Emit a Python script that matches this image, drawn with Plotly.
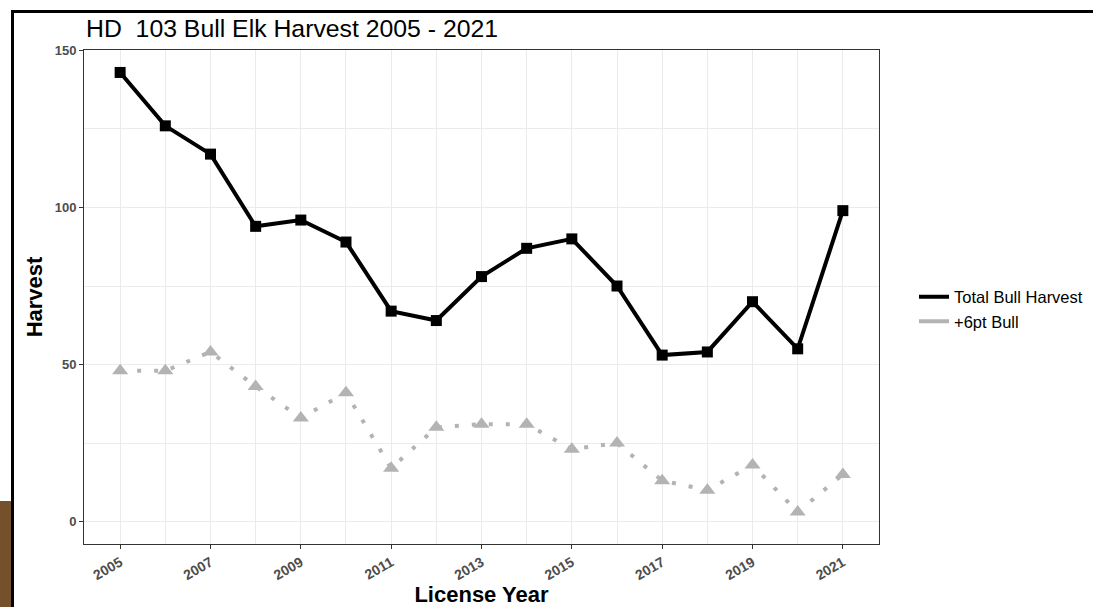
import plotly.graph_objects as go

years = list(range(2005, 2022))
total_bull = [143, 126, 117, 94, 96, 89, 67, 64, 78, 87, 90, 75, 53, 54, 70, 55, 99]
six_pt_bull = [48, 48, 54, 43, 33, 41, 17, 30, 31, 31, 23, 25, 13, 10, 18, 3, 15]
x_ticks = list(range(2005, 2022, 2))
y_ticks = [0, 50, 100, 150]

BLACK = "#000000"
GREY = "#B3B3B3"
W, H = 1093, 607
L, R, T, B = 84, 1093 - 879, 50, 607 - 544
FONT = "Liberation Sans, Arial, sans-serif"

fig = go.Figure()
fig.add_trace(go.Scatter(x=years, y=six_pt_bull, mode="lines",
                         line=dict(color=GREY, width=4, dash="4px,13px"),
                         showlegend=False, hoverinfo="skip"))
fig.add_trace(go.Scatter(x=years, y=six_pt_bull, mode="markers",
                         marker=dict(symbol="triangle-up", size=14, color=GREY),
                         showlegend=False))
fig.add_trace(go.Scatter(x=years, y=total_bull, mode="lines",
                         line=dict(color=BLACK, width=4),
                         showlegend=False, hoverinfo="skip"))
fig.add_trace(go.Scatter(x=years, y=total_bull, mode="markers",
                         marker=dict(symbol="square", size=11, color=BLACK),
                         showlegend=False))
# legend keys
fig.add_trace(go.Scatter(x=[None], y=[None], mode="lines", name="Total Bull Harvest",
                         line=dict(color=BLACK, width=4)))
fig.add_trace(go.Scatter(x=[None], y=[None], mode="lines", name="+6pt Bull",
                         line=dict(color=GREY, width=4)))

def px_x(p):
    return (p - L) / (W - L - R)

def px_y(p):
    return (H - B - p) / (H - T - B)

shapes = [
    dict(type="line", xref="paper", yref="paper", x0=px_x(11), x1=px_x(1100),
         y0=px_y(11.5), y1=px_y(11.5), line=dict(color="#000000", width=3)),
    dict(type="line", xref="paper", yref="paper", x0=px_x(12.5), x1=px_x(12.5),
         y0=px_y(10), y1=px_y(610), line=dict(color="#000000", width=3)),
    dict(type="rect", xref="paper", yref="paper", x0=px_x(-2), x1=px_x(11),
         y0=px_y(501), y1=px_y(610), line=dict(width=0), fillcolor="#74502B"),
]

fig.update_layout(
    width=W, height=H,
    margin=dict(l=L, r=R, t=T, b=B, pad=0, autoexpand=False),
    paper_bgcolor="white", plot_bgcolor="white",
    font=dict(family=FONT, color="#000000"),
    title=dict(text="HD  103 Bull Elk Harvest 2005 - 2021", x=86 / W, xanchor="left",
               y=1 - 28 / H, yanchor="middle",
               font=dict(size=24.8, color="#000000")),
    shapes=shapes,
    legend=dict(xref="container", x=914 / W, xanchor="left", y=px_y(309), yanchor="middle",
                font=dict(size=16.5, color="#000000"), bgcolor="rgba(0,0,0,0)",
                tracegroupgap=0),
    showlegend=True,
)

fig.update_xaxes(
    automargin=False,
    range=[2004.2, 2021.8], tickvals=x_ticks, ticktext=[str(v) for v in x_ticks],
    tickangle=-30, tickfont=dict(size=14, color="#4D4D4D", family=FONT, weight="bold"),
    ticks="outside", ticklen=4, tickcolor="#333333", tickwidth=1,
    showgrid=True, gridcolor="#EBEBEB", gridwidth=1.2,
    minor=dict(dtick=1, tick0=2005, showgrid=True, gridcolor="#EBEBEB", gridwidth=0.8, ticks=""),
    showline=True, mirror=True, linecolor="#333333", linewidth=1, zeroline=False,
    title=dict(text="<b>License Year</b>", font=dict(size=22, color="#000000"), standoff=8),
)
fig.update_yaxes(
    automargin=False,
    range=[-7.15, 150.15], tickvals=y_ticks, ticktext=[str(v) for v in y_ticks],
    tickfont=dict(size=13, color="#4D4D4D", family=FONT, weight="bold"),
    ticks="outside", ticklen=4, tickcolor="#333333", tickwidth=1,
    showgrid=True, gridcolor="#EBEBEB", gridwidth=1.2,
    minor=dict(dtick=25, tick0=0, showgrid=True, gridcolor="#EBEBEB", gridwidth=0.8, ticks=""),
    showline=True, mirror=True, linecolor="#333333", linewidth=1, zeroline=False,
    title=dict(text="<b>Harvest</b>", font=dict(size=22, color="#000000"), standoff=5),
)

fig.write_html("out.html", config={"displayModeBar": False},
               post_script="document.body.style.margin='0';")
